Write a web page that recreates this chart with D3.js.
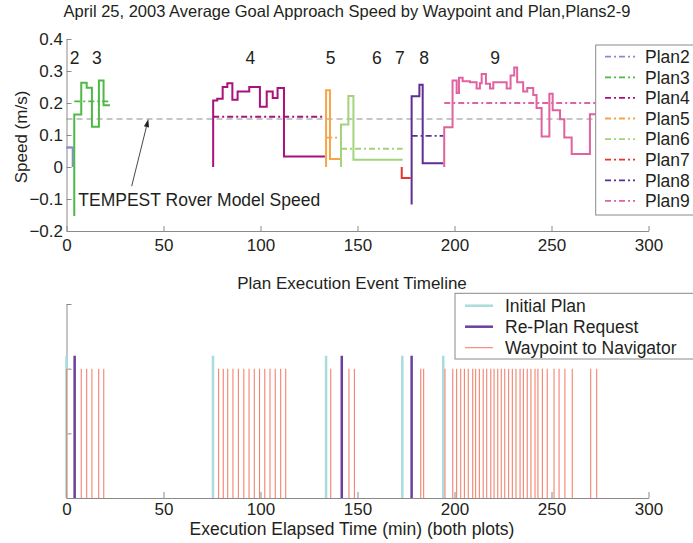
<!DOCTYPE html>
<html><head><meta charset="utf-8">
<script src="https://cdn.jsdelivr.net/npm/d3@7"></script>
<style>
body{margin:0;background:#fff;}
svg{display:block;}
text{font-family:"Liberation Sans",Arial,Helvetica,sans-serif;fill:#231f20;}
</style></head><body>
<svg id="c" width="693" height="543"></svg>
<script>
// ---------------- data ----------------
const planNames = ["Plan2","Plan3","Plan4","Plan5","Plan6","Plan7","Plan8","Plan9"];
const planLabels = ["2","3","4","5","6","7","8","9"];
const planLabelTimes = [4.2, 15.6, 94.8, 136.1, 160, 171.9, 184.3, 221];
// speed step profiles [time (min), speed (m/s)]
const plan2 = [[0,0.061],[3.2,0.061],[3.2,0]];
const plan3 = [[4.0,-0.153],[4.0,0.164],[7.6,0.263],[10.4,0.248],[13.1,0.126],[16.7,0.27],[19.1,0.193],[22.4,0.193]];
const plan4 = [[75.6,0.0],[75.6,0.208],[77.7,0.213],[80.5,0.25],[82.9,0.262],[85.5,0.21],[88.2,0.236],[94.2,0.25],[99.7,0.188],[103.2,0.236],[106.3,0.216],[108.8,0.247],[112.1,0.033],[133.2,0.033]];
const plan5 = [[133.8,0.0],[133.8,0.24],[135.8,0.025],[141.0,0.025]];
const plan6 = [[141.5,0.0],[141.5,0.133],[145.3,0.222],[147.9,0.023],[173.3,0.023]];
const plan7 = [[172.8,0.0],[172.8,-0.034],[177.4,-0.034]];
const plan8 = [[177.9,-0.117],[177.9,0.221],[181.9,0.257],[183.6,0.012],[194.2,0.012]];
const plan9 = [[194.7,0.0],[194.7,0.124],[199.0,0.27],[201.1,0.231],[202.3,0.279],[204.2,0.268],[208.0,0.265],[211.4,0.245],[213.1,0.262],[214.0,0.291],[216.2,0.26],[218.3,0.245],[220.0,0.265],[226.9,0.245],[228.9,0.286],[230.8,0.311],[232.3,0.265],[235.4,0.236],[237.5,0.247],[240.6,0.225],[242.3,0.184],[244.9,0.095],[248.9,0.229],[250.6,0.177],[254.4,0.149],[256.6,0.092],[260.4,0.041],[269.8,0.165],[275.0,0.165]];
const planSeries = [plan2,plan3,plan4,plan5,plan6,plan7,plan8,plan9];
const planMeans = [0.061, 0.205, 0.157, 0.092, 0.057, -0.034, 0.097, 0.200];
const modelSpeed = 0.15;
const modelSpeedLabel = "TEMPEST Rover Model Speed";
const arrowFrom = [33.6, -0.06], arrowTo = [42.2, 0.15], annotationAt = [6.1, -0.122];

const xTicks = [0,50,100,150,200,250,300];
const yTicksTop = [-0.2,-0.1,0,0.1,0.2,0.3,0.4];
const yTicksBottom = [0,1,2,3];

const initialPlanTimes = [0, 75.5, 133.8, 173.1, 194.2];
const replanTimes = [4.2, 141.9, 177.9];
const waypointTimes = [0, 7.6, 10.4, 13.1, 16.6, 19.2,
  78.4, 80.8, 83.1, 85.8, 88.6, 91.4, 94.1, 96.8, 99.5, 102.2, 104.9, 107.6, 110.4, 113.0,
  136.2, 145.6, 148.4, 182.6, 184.1,
  195.1, 199.1, 201.1, 203.2, 205.1, 207.1, 209.4, 210.9, 212.8, 214.8, 216.6, 218.7, 220.4, 222.3,
  224.1, 225.9, 227.9, 229.8, 231.7, 233.8, 235.5, 237.5, 239.4, 241.5, 243.0, 245.3, 247.8,
  251.3, 253.9, 256.9, 260.7, 270.2, 273.3];
const eventNames = ["Initial Plan","Re-Plan Request","Waypoint to Navigator"];
const eventHeights = [2.2, 2.2, 2.0];

// ---------------- styles ----------------
const planColors = ["#8a8ad0","#4fb846","#a8127a","#f5a548","#a3d47c","#e6362a","#5e2e92","#e0629f"];
const eventColors = ["#a9dcdc","#6a3fa0","#f2836f"];
const eventWidths = [2.5, 2.5, 1.1];
const axisColor = "#8a8a8a";
const dashDot = "6,3,2,3";

// ---------------- scales ----------------
const svg = d3.select("#c");
const x = d3.scaleLinear().domain([0,300]).range([66.5,648.5]);
const yT = d3.scaleLinear().domain([-0.2,0.4]).range([231,39]);
const yB = d3.scaleLinear().domain([0,3]).range([498,304]);

function styleAxis(g){
  g.selectAll("path.domain").attr("stroke",axisColor).attr("stroke-width",1);
  g.selectAll(".tick line").attr("stroke",axisColor).attr("stroke-width",1);
  g.selectAll(".tick text").attr("fill","#231f20").style("font-size","17px").attr("font-family",null);
  g.attr("font-family",null).attr("font-size",null);
}

// ---------------- top chart ----------------
svg.append("text").attr("x",347).attr("y",17).attr("text-anchor","middle")
  .style("font-size","16.5px")
  .text("April 25, 2003 Average Goal Approach Speed by Waypoint and Plan,Plans2-9");

svg.append("g").attr("transform","translate(0,231)")
  .call(d3.axisBottom(x).tickValues(xTicks).tickFormat(d3.format("d")).tickSizeInner(-5).tickSizeOuter(0).tickPadding(8))
  .call(styleAxis);
svg.append("g").attr("transform","translate(66.5,0)")
  .call(d3.axisLeft(yT).tickValues(yTicksTop).tickFormat(d=>d===0?"0":d3.format(".1f")(d)).tickSizeInner(-5).tickSizeOuter(0).tickPadding(3.5))
  .call(styleAxis);

svg.append("text").attr("transform","translate(27,137) rotate(-90)").attr("text-anchor","middle")
  .style("font-size","17px").text("Speed (m/s)");

// model speed reference line
svg.append("line").attr("x1",x(0)).attr("x2",x(300)).attr("y1",yT(modelSpeed)).attr("y2",yT(modelSpeed))
  .attr("stroke","#8c8c8c").attr("stroke-width",1).attr("stroke-dasharray","6,4");

const line = d3.line().x(d=>x(d[0])).y(d=>yT(d[1])).curve(d3.curveStepAfter);
planSeries.forEach((s,i)=>{
  const t0 = s[0][0], t1 = s[s.length-1][0];
  svg.append("line").attr("x1",x(t0)).attr("x2",x(t1)).attr("y1",yT(planMeans[i])).attr("y2",yT(planMeans[i]))
    .attr("stroke",planColors[i]).attr("stroke-width",1.8).attr("stroke-dasharray",dashDot);
});
planSeries.forEach((s,i)=>{
  svg.append("path").attr("d",line(s)).attr("fill","none").attr("stroke",planColors[i]).attr("stroke-width",2);
});

planLabels.forEach((l,i)=>{
  svg.append("text").attr("x",x(planLabelTimes[i])).attr("y",63.5).attr("text-anchor","middle")
    .style("font-size","17.5px").text(l);
});

// annotation
svg.append("text").attr("x",x(annotationAt[0])).attr("y",yT(annotationAt[1])).style("font-size","17.5px").text(modelSpeedLabel);
{
  const x1=x(arrowFrom[0]), y1=yT(arrowFrom[1]), x2=x(arrowTo[0]), y2=yT(arrowTo[1]);
  const ang=Math.atan2(y2-y1,x2-x1), L=8, W=2.6;
  const bx=x2-L*Math.cos(ang), by=y2-L*Math.sin(ang);
  svg.append("line").attr("x1",x1).attr("y1",y1).attr("x2",bx).attr("y2",by).attr("stroke","#333").attr("stroke-width",0.9);
  svg.append("path").attr("d",`M${x2},${y2}L${bx+W*Math.sin(ang)},${by-W*Math.cos(ang)}L${bx-W*Math.sin(ang)},${by+W*Math.cos(ang)}Z`).attr("fill","#222");
}

// top legend
{
  const lg = svg.append("g");
  lg.append("rect").attr("x",595.7).attr("y",45).attr("width",110).attr("height",170)
    .attr("fill","#fff").attr("stroke",axisColor).attr("stroke-width",1);
  planNames.forEach((n,i)=>{
    const cy = 56.7 + i*20.6;
    lg.append("line").attr("x1",605).attr("x2",635).attr("y1",cy).attr("y2",cy)
      .attr("stroke",planColors[i]).attr("stroke-width",1.8).attr("stroke-dasharray",dashDot);
    lg.append("text").attr("x",645).attr("y",cy+6.2).style("font-size","17.5px").text(n);
  });
}

// ---------------- bottom chart ----------------
svg.append("text").attr("x",352).attr("y",288.5).attr("text-anchor","middle")
  .style("font-size","17px").text("Plan Execution Event Timeline");

svg.append("g").attr("transform","translate(0,498)")
  .call(d3.axisBottom(x).tickValues(xTicks).tickFormat(d3.format("d")).tickSizeInner(-6).tickSizeOuter(0).tickPadding(5))
  .call(styleAxis);
svg.append("g").attr("transform","translate(66.5,0)")
  .call(d3.axisLeft(yB).tickValues(yTicksBottom).tickFormat("").tickSizeInner(-5).tickSizeOuter(0))
  .call(styleAxis);

const eventSets = [initialPlanTimes, replanTimes, waypointTimes];
eventSets.forEach((ts,k)=>{
  svg.append("g").selectAll("line").data(ts).join("line")
    .attr("x1",d=>x(d)).attr("x2",d=>x(d)).attr("y1",yB(0)).attr("y2",yB(eventHeights[k]))
    .attr("stroke",eventColors[k]).attr("stroke-width",eventWidths[k]);
});

svg.append("text").attr("x",352).attr("y",534.5).attr("text-anchor","middle")
  .style("font-size","17.5px").text("Execution Elapsed Time (min) (both plots)");

// bottom legend
{
  const lg = svg.append("g");
  lg.append("rect").attr("x",455).attr("y",293.3).attr("width",250).attr("height",65.7)
    .attr("fill","#fff").attr("stroke",axisColor).attr("stroke-width",1);
  eventNames.forEach((n,i)=>{
    const cy = 305.7 + i*21;
    lg.append("line").attr("x1",465).attr("x2",493).attr("y1",cy).attr("y2",cy)
      .attr("stroke",eventColors[i]).attr("stroke-width",eventWidths[i]);
    lg.append("text").attr("x",505).attr("y",cy+6.2).style("font-size","17.5px").text(n);
  });
}
</script>
</body></html>
